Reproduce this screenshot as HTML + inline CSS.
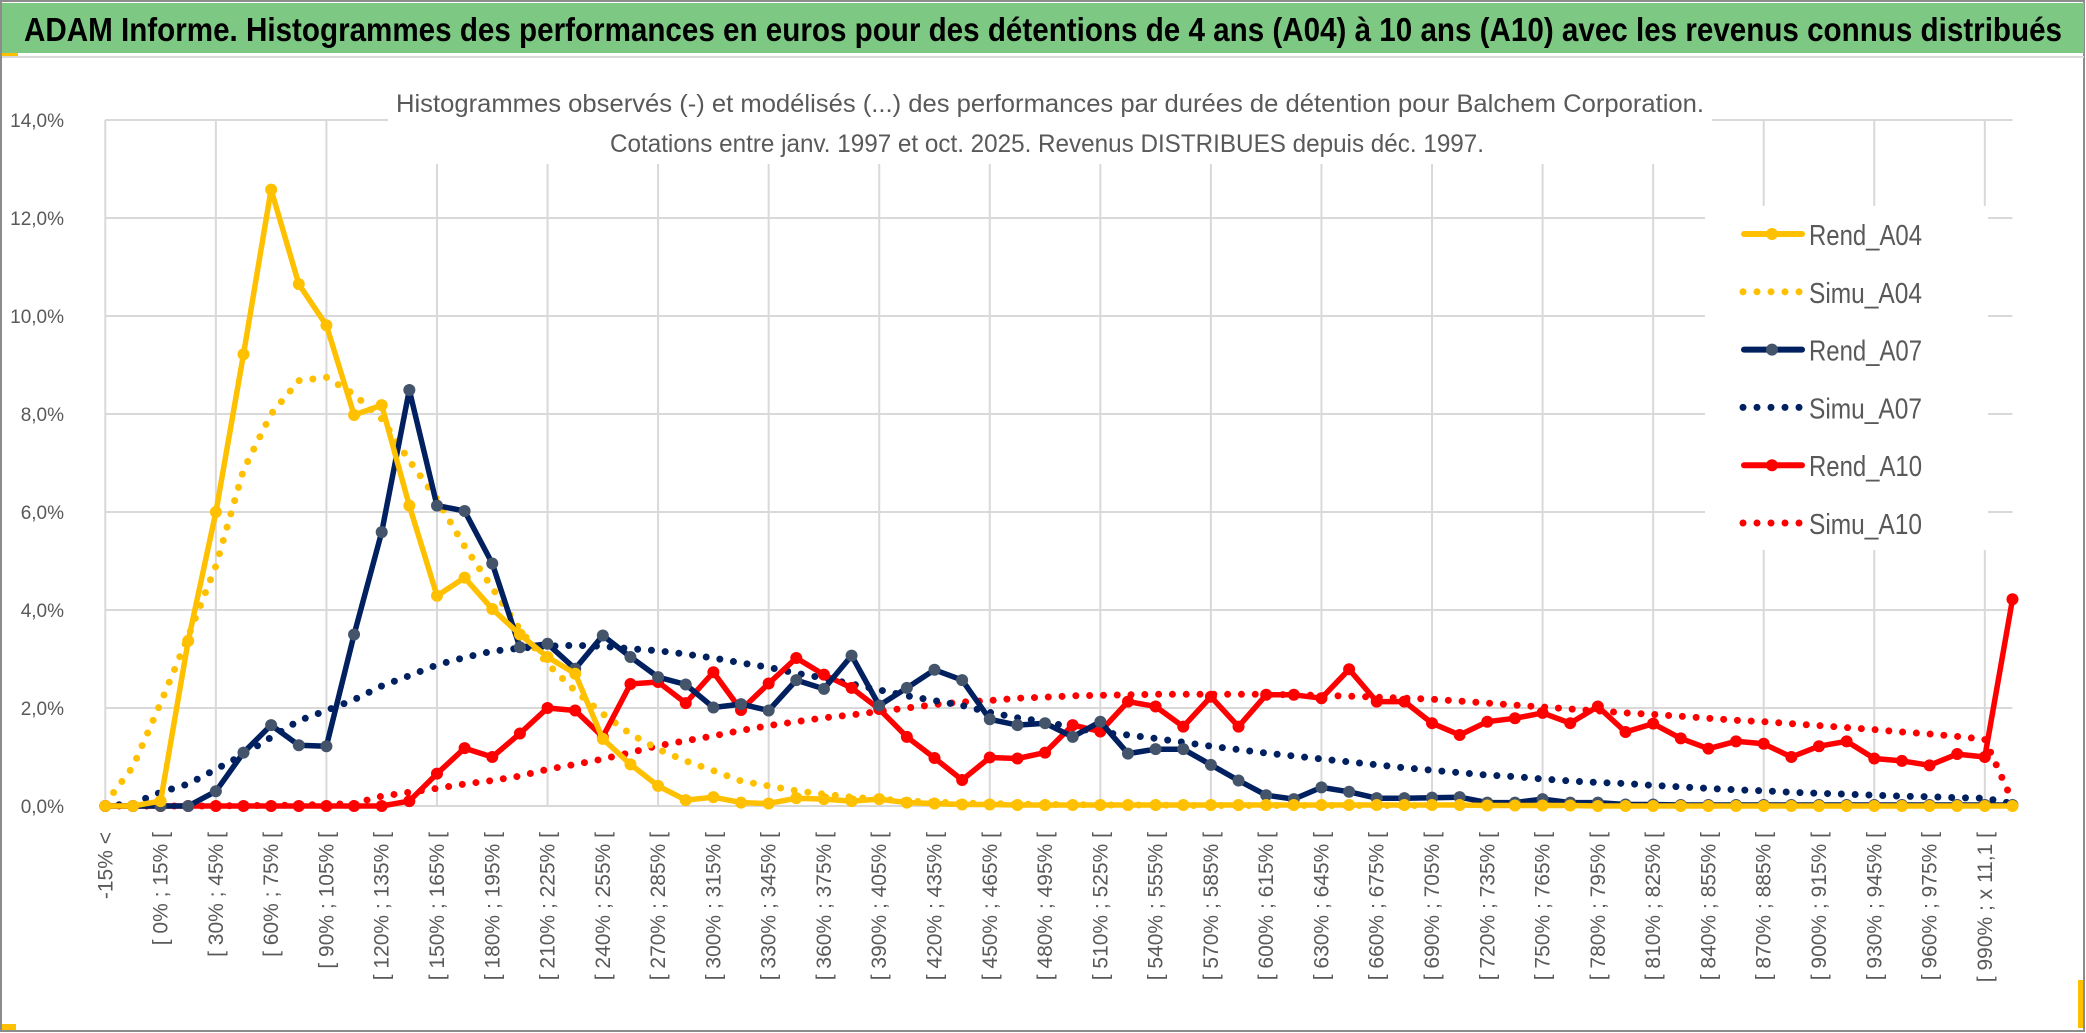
<!DOCTYPE html>
<html><head><meta charset="utf-8"><title>ADAM Informe - Balchem</title>
<style>
html,body{margin:0;padding:0;background:#fff;}
svg{display:block;}
text{font-family:"Liberation Sans",sans-serif;}
</style></head>
<body>
<svg id="chart" width="2086" height="1033" viewBox="0 0 2086 1033" xmlns="http://www.w3.org/2000/svg">
<rect x="0" y="0" width="2086" height="1033" fill="#fff"/>
<rect x="1" y="1" width="2083" height="1030" fill="none" stroke="#8c8c8c" stroke-width="2"/>
<rect x="2" y="3" width="2082" height="50" fill="#7dc883"/>
<rect x="2" y="53" width="16" height="3" fill="#ffc000"/>
<rect x="2" y="56" width="2082" height="2" fill="#d9d9d9"/>
<text x="24" y="41" font-size="33" font-weight="bold" fill="#000" textLength="2038" lengthAdjust="spacingAndGlyphs">ADAM Informe. Histogrammes des performances en euros pour des détentions de 4 ans (A04) à 10 ans (A10) avec les revenus connus distribués</text>
<rect x="2" y="1024" width="14" height="6" fill="#ffc000"/>
<rect x="2078" y="980" width="5" height="48" fill="#ffc000"/>
<g id="grid"></g>
<rect x="388" y="82" width="1324" height="82" fill="#fff"/>
<text x="1050" y="112" font-size="25" fill="#595959" text-anchor="middle" textLength="1308" lengthAdjust="spacingAndGlyphs">Histogrammes observés (-) et modélisés (...) des performances par durées de détention pour Balchem Corporation.</text>
<text x="1047" y="152" font-size="25" fill="#595959" text-anchor="middle" textLength="874" lengthAdjust="spacingAndGlyphs">Cotations entre janv. 1997 et oct. 2025. Revenus DISTRIBUES depuis déc. 1997.</text>
<g id="ylabels"></g>
<g id="xlabels"></g>
<g id="series"></g>
<rect x="1705" y="206" width="283" height="344" fill="#fff"/>
<g id="legend"></g>
</svg>
<script>
const categories = (function(){const c=["-15% <","[ -15% ; 0% ["];for(let k=0;k<=65;k++){c.push("[ "+(15*k)+"% ; "+(15*k+15)+"% [");}c.push("[ 990% ; x 11,1 [");c.push("x 11,1 >");return c;})();
const rendA04 = [0,0,0.1,3.37,6.0,9.22,12.58,10.65,9.81,7.98,8.18,6.13,4.29,4.66,4.02,3.5,3.04,2.7,1.37,0.85,0.41,0.12,0.18,0.07,0.05,0.16,0.14,0.1,0.14,0.07,0.05,0.03,0.03,0.02,0.02,0.02,0.02,0.02,0.02,0.02,0.02,0.02,0.02,0.02,0.02,0.02,0.02,0.02,0.02,0.02,0.01,0.01,0.01,0.01,0,0,0,0,0,0,0,0,0,0,0,0,0,0,0,0];
const simuA04 = [0.05,0.8,2.1,3.46,4.9,6.86,8.0,8.68,8.75,8.4,7.9,7.05,6.26,5.3,4.45,3.6,2.9,2.35,1.88,1.47,1.16,0.92,0.72,0.51,0.41,0.31,0.24,0.18,0.14,0.1,0.08,0.06,0.05,0.04,0.03,0.03,0.02,0.02,0.02,0.01,0.01,0.01,0.01,0.01,0.01,0.01,0.01,0.01,0.01,null,null,null,null,null,null,null,null,null,null,null,null,null,null,null,null,null,null,null,null,null];
const rendA07 = [0,0,0,0,0.3,1.09,1.65,1.24,1.22,3.5,5.59,8.49,6.13,6.02,4.95,3.24,3.31,2.8,3.48,3.04,2.63,2.48,2.01,2.08,1.95,2.57,2.39,3.07,2.05,2.41,2.78,2.57,1.77,1.65,1.69,1.41,1.72,1.07,1.16,1.16,0.84,0.52,0.22,0.14,0.38,0.29,0.16,0.16,0.17,0.18,0.07,0.07,0.14,0.07,0.07,0.03,0.03,0.02,0.02,0.02,0.02,0.02,0.02,0.02,0.02,0.02,0.02,0.02,0.02,0.02];
const simuA07 = [0,0.05,0.28,0.45,0.75,1.05,1.4,1.74,1.95,2.17,2.45,2.66,2.88,3.03,3.16,3.22,3.26,3.28,3.26,3.21,3.17,3.1,3.02,2.92,2.83,2.71,2.61,2.49,2.37,2.25,2.15,2.05,1.91,1.8,1.72,1.6,1.5,1.45,1.38,1.3,1.22,1.15,1.08,1.02,0.96,0.9,0.84,0.78,0.73,0.68,0.63,0.6,0.55,0.51,0.48,0.46,0.42,0.39,0.36,0.33,0.31,0.28,0.26,0.24,0.22,0.2,0.19,0.17,0.16,0.05];
const rendA10 = [0,0,0,0,0,0,0,0,0,0,0,0.1,0.66,1.18,1.0,1.48,2.0,1.95,1.41,2.49,2.53,2.1,2.73,1.96,2.5,3.02,2.68,2.41,1.98,1.41,0.98,0.53,0.99,0.97,1.09,1.65,1.52,2.13,2.03,1.62,2.23,1.62,2.27,2.27,2.2,2.79,2.13,2.13,1.69,1.45,1.72,1.79,1.9,1.69,2.03,1.51,1.68,1.38,1.17,1.32,1.27,1.0,1.22,1.32,0.97,0.92,0.83,1.06,1.0,4.22];
const simuA10 = [0,0,0,0,0,0.01,0.01,0.02,0.03,0.05,0.2,0.28,0.36,0.45,0.52,0.61,0.75,0.85,0.96,1.09,1.23,1.33,1.43,1.54,1.64,1.72,1.8,1.86,1.93,2.0,2.07,2.12,2.15,2.2,2.22,2.25,2.26,2.27,2.28,2.28,2.28,2.28,2.28,2.27,2.26,2.24,2.22,2.2,2.18,2.14,2.1,2.06,2.02,1.98,1.94,1.9,1.87,1.83,1.79,1.75,1.72,1.68,1.64,1.6,1.56,1.51,1.47,1.42,1.36,0.1];
const yTicks = [0,2,4,6,8,10,12,14];
const yTickLabels = ["0,0%","2,0%","4,0%","6,0%","8,0%","10,0%","12,0%","14,0%"];

const NS="http://www.w3.org/2000/svg";
const X0=105.3, STEP=27.64, Y0=806, PPU=49;
function xScale(i){return X0+i*STEP;}
function yScale(v){return Y0-v*PPU;}
function mk(tag,attrs,parent){const e=document.createElementNS(NS,tag);for(const k in attrs)e.setAttribute(k,attrs[k]);parent.appendChild(e);return e;}

const grid=document.getElementById('grid');
const xRight=xScale(categories.length-1);
yTicks.forEach(function(t){
  const l=mk('line',{x1:X0,x2:xRight,y1:yScale(t),y2:yScale(t),stroke:'#d9d9d9','stroke-width':2},grid);
  
  
});
for(let i=0;i<categories.length;i+=4){
  const l=mk('line',{x1:xScale(i),x2:xScale(i),y1:yScale(14),y2:yScale(0),stroke:'#d9d9d9','stroke-width':2},grid);
  
  
}
const yl=document.getElementById('ylabels');
yTicks.forEach(function(t,k){
  const e=mk('text',{x:64,y:yScale(t)+7,'font-size':19,fill:'#595959','text-anchor':'end'},yl);
  e.textContent=yTickLabels[k];
  
  
});
const xl=document.getElementById('xlabels');
categories.forEach(function(c,i){
  if(i%2!==0)return;
  const x=xScale(i)+7, y=832;
  const e=mk('text',{x:x,y:y,'font-size':21,fill:'#595959','text-anchor':'end',transform:'rotate(-90 '+x+' '+y+')'},xl);
  e.textContent=c;
  
  
});

const series=document.getElementById('series');
function pathFor(vals){let d='';let pen=false;vals.forEach(function(v,i){if(v===null){pen=false;return;}d+=(pen?'L':'M')+xScale(i).toFixed(1)+' '+yScale(v).toFixed(1)+' ';pen=true;});return d;}
function drawSim(vals,color,name){
  const p=mk('path',{d:pathFor(vals),fill:'none',stroke:color,'stroke-width':7,'stroke-linecap':'round','stroke-dasharray':'0 13.8','stroke-linejoin':'round'},series);
  
  
}
function drawRend(vals,color,mcolor,name){
  const g=mk('g',{},series);
  
  
  mk('path',{d:pathFor(vals),fill:'none',stroke:color,'stroke-width':5.5,'stroke-linejoin':'round'},g);
  vals.forEach(function(v,i){
    if(v===null)return;
    const c=mk('circle',{cx:xScale(i),cy:yScale(v),r:6,fill:mcolor},g);
    
    
  });
}
drawSim(simuA10,'#ff0000','simu-a10-line');
drawSim(simuA07,'#002060','simu-a07-line');
drawSim(simuA04,'#ffc000','simu-a04-line');
drawRend(rendA10,'#ff0000','#ff0000','rend-a10-line');
drawRend(rendA07,'#002060','#44546a','rend-a07-line');
drawRend(rendA04,'#ffc000','#ffc000','rend-a04-line');

const legendItems=[["Rend_A04","#ffc000","#ffc000",false],["Simu_A04","#ffc000",null,true],["Rend_A07","#002060","#44546a",false],["Simu_A07","#002060",null,true],["Rend_A10","#ff0000","#ff0000",false],["Simu_A10","#ff0000",null,true]];
const lg=document.getElementById('legend');
legendItems.forEach(function(it,k){
  const y=234+k*57.8;
  const g=mk('g',{},lg);
  
  
  if(it[3]){
    mk('line',{x1:1743,x2:1800,y1:y,y2:y,stroke:it[1],'stroke-width':7,'stroke-linecap':'round','stroke-dasharray':'0 14'},g);
  } else {
    mk('line',{x1:1744,x2:1802,y1:y,y2:y,stroke:it[1],'stroke-width':6,'stroke-linecap':'round'},g);
    mk('circle',{cx:1772,cy:y,r:6,fill:it[2]},g);
  }
  const t=mk('text',{x:1809,y:y+11,'font-size':29,fill:'#595959',textLength:113,lengthAdjust:'spacingAndGlyphs'},g);
  t.textContent=it[0];
});
</script>
</body></html>
